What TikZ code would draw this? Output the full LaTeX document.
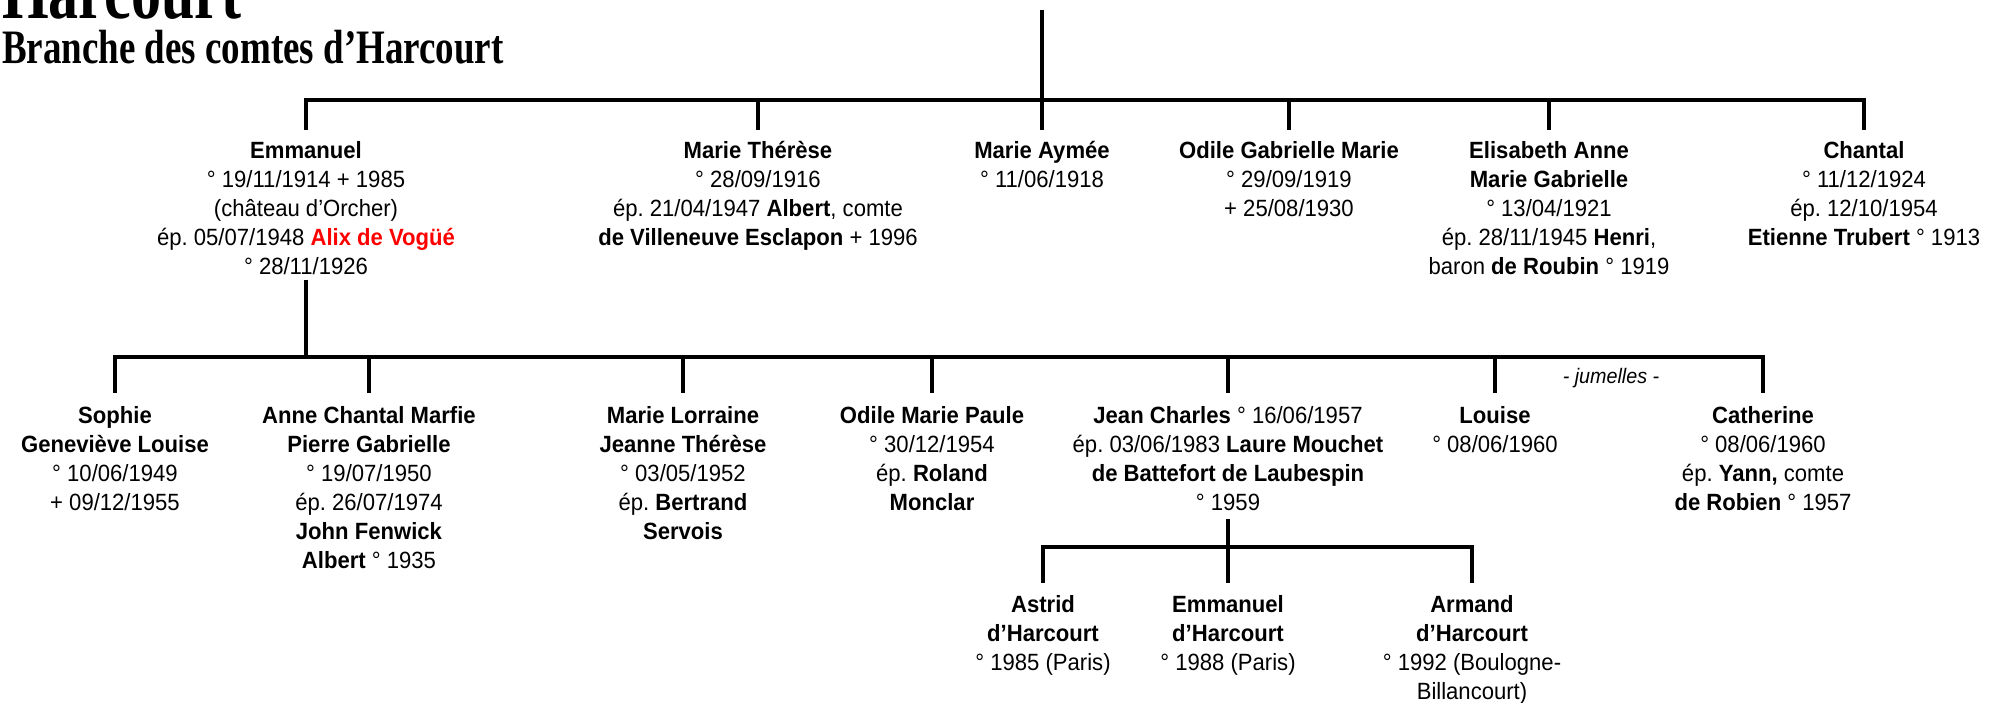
\documentclass[tikz,border=0pt]{standalone}
\usepackage{fontspec}
\setmainfont{Liberation Sans}[FakeStretch=0.94]
\newfontfamily\titlefont{Liberation Serif}[FakeStretch=0.77]
\frenchspacing
\begin{document}
\begin{tikzpicture}[x=1pt, y=-1pt,
    person/.style={align=center, anchor=north, inner sep=0pt, font=\fontsize{23.5}{29}\selectfont},
    tie/.style={line width=3.2pt}]
  \useasboundingbox (0,0) rectangle (1995,702);
  \node[anchor=base west, inner sep=0pt, font=\titlefont\bfseries\fontsize{78}{78}\selectfont] (name) at (2,18) {Harcourt};
  \node[anchor=base west, inner sep=0pt, font=\titlefont\bfseries\fontsize{48}{48}\selectfont] (branch) at (2,63) {Branche des comtes d’Harcourt};
  % children of the comte
  \node[person] (emm) at (306,141) {\textbf{Emmanuel}\\ ° 19/11/1914 + 1985\\ (château d’Orcher)\\ ép. 05/07/1948 \textcolor{red}{\textbf{Alix de Vogüé}}\\ ° 28/11/1926};
  \node[person] (mth) at (758,141) {\textbf{Marie Thérèse}\\ ° 28/09/1916\\ ép. 21/04/1947 \textbf{Albert}, comte\\ \textbf{de Villeneuve Esclapon} + 1996};
  \node[person] (may) at (1042,141) {\textbf{Marie Aymée}\\ ° 11/06/1918};
  \node[person] (odi) at (1289,141) {\textbf{Odile Gabrielle Marie}\\ ° 29/09/1919\\ + 25/08/1930};
  \node[person] (eli) at (1549,141) {\textbf{Elisabeth Anne}\\ \textbf{Marie Gabrielle}\\ ° 13/04/1921\\ ép. 28/11/1945 \textbf{Henri},\\ baron \textbf{de Roubin} ° 1919};
  \node[person] (cha) at (1864,141) {\textbf{Chantal}\\ ° 11/12/1924\\ ép. 12/10/1954\\ \textbf{Etienne Trubert} ° 1913};
  % children of Emmanuel
  \node[person] (sop) at (115,406) {\textbf{Sophie}\\ \textbf{Geneviève Louise}\\ ° 10/06/1949\\ + 09/12/1955};
  \node[person] (ann) at (369,406) {\textbf{Anne Chantal Marfie}\\ \textbf{Pierre Gabrielle}\\ ° 19/07/1950\\ ép. 26/07/1974\\ \textbf{John Fenwick}\\ \textbf{Albert} ° 1935};
  \node[person] (mlo) at (683,406) {\textbf{Marie Lorraine}\\ \textbf{Jeanne Thérèse}\\ ° 03/05/1952\\ ép. \textbf{Bertrand}\\ \textbf{Servois}};
  \node[person] (omp) at (932,406) {\textbf{Odile Marie Paule}\\ ° 30/12/1954\\ ép. \textbf{Roland}\\ \textbf{Monclar}};
  \node[person] (jch) at (1228,406) {\textbf{Jean Charles} ° 16/06/1957\\ ép. 03/06/1983 \textbf{Laure Mouchet}\\ \textbf{de Battefort de Laubespin}\\ ° 1959};
  \node[person] (lou) at (1495,406) {\textbf{Louise}\\ ° 08/06/1960};
  \node[person] (cat) at (1763,406) {\textbf{Catherine}\\ ° 08/06/1960\\ ép. \textbf{Yann,} comte\\ \textbf{de Robien} ° 1957};
  \node[font=\fontsize{21}{25}\selectfont\itshape] (jum) at (1611,378) {- jumelles -};
  % children of Jean Charles
  \node[person] (ast) at (1043,595) {\textbf{Astrid}\\ \textbf{d’Harcourt}\\ ° 1985 (Paris)};
  \node[person] (emh) at (1228,595) {\textbf{Emmanuel}\\ \textbf{d’Harcourt}\\ ° 1988 (Paris)};
  \node[person] (arm) at (1472,595) {\textbf{Armand}\\ \textbf{d’Harcourt}\\ ° 1992 (Boulogne-\\ Billancourt)};
  % lines
  \coordinate (top) at (1042,10);
  \coordinate (fork1) at (1042,100);
  \draw[tie] (top) -- (fork1);
  \foreach \c in {emm,mth,may,odi,eli,cha}
    \draw[tie] (fork1) -| ([yshift=11pt]\c.north);
  \coordinate (fork2) at (306,357);
  \draw[tie] ([yshift=-5pt]emm.south) -- (fork2);
  \foreach \c in {sop,ann,mlo,omp,jch,lou,cat}
    \draw[tie] (fork2) -| ([yshift=13pt]\c.north);
  \coordinate (fork3) at (1228,547);
  \draw[tie] ([yshift=-8pt]jch.south) -- (fork3);
  \foreach \c in {ast,emh,arm}
    \draw[tie] (fork3) -| ([yshift=12pt]\c.north);
\end{tikzpicture}
\end{document}
